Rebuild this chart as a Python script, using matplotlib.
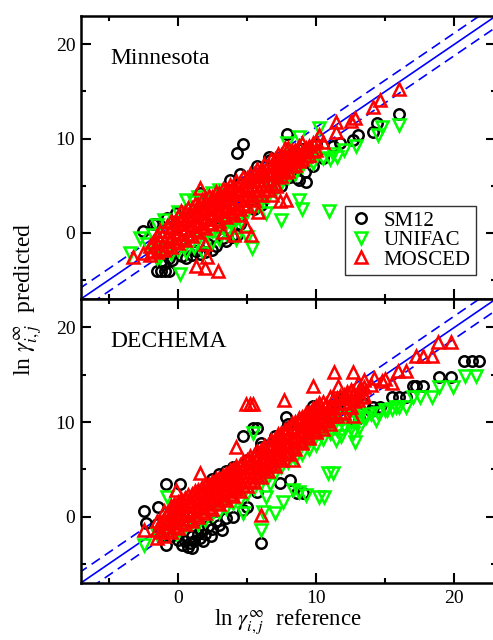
import numpy as np
import matplotlib
matplotlib.use('Agg')
import matplotlib.pyplot as plt

# --- Minnesota panel (top) ---
mn_sm12_x = [-2.5, -1.8, -1.5, -1.2, -0.9, -0.6, -1.2, -0.6, 0.0, 0.6, 0.6, 1.0, 1.6, 2.0, 2.5, 2.8,
             3.0, 3.5, 3.9, 4.3, 4.5, -0.1, 1.6, 3.75, 4.5, 5.7, 6.6, 5.5, 6.0, 7.0, 7.5, 7.9, 8.1,
             8.6, 8.8, 9.3, 9.2, 9.75, 10.5, 11.2, 11.7, 12.7, 13.0, 14.1, 14.4, 16.0, 4.31, 4.72,
             7.92, 6.66, 10.0, 9.0, -1.0, -0.4, 0.3, 1.3, 2.2, 3.3, -1.6, -0.8]
mn_sm12_y = [0.25, 1.0, -4.06, -4.06, -4.06, -4.06, -3.0, -2.6, 0.6, -2.65, -1.6, -2.3, -2.2, -2.0,
             -1.8, -1.4, 0.6, -0.9, -0.4, -0.2, 1.0, 2.1, 4.2, 5.6, 6.3, 7.05, 8.1, 2.5, 3.0, 4.8,
             5.0, 6.7, 5.97, 5.8, 5.64, 5.4, 6.5, 7.05, 8.0, 9.2, 9.5, 9.9, 10.4, 10.75, 11.7, 12.6,
             8.47, 9.42, 10.47, 7.75, 9.4, 8.9, -3.3, -2.9, -2.4, -1.9, -1.2, -0.5, 0.9, 1.6]

mn_unifac_x = [-3.47, -2.75, -2.2, -1.8, -1.3, -1.0, -0.5, 0.14, 0.6, 1.2, 1.8, 2.5, 3.0, 3.5, 4.2,
               5.0, 5.4, 4.0, 4.6, -1.5, -1.0, 0.0, 0.6, 1.2, 1.5, 2.0, 2.5, 3.0, 6.4, 5.8, 6.4,
               7.5, 8.8, 9.0, 10.97, 7.0, 7.8, 8.5, 9.5, 9.8, 10.0, 10.5, 11.0, 11.2, 11.5, 12.0,
               10.25, 8.8, 7.9, 12.9, 14.5, 14.8, 16.0, 6.0, 5.0, 3.5,
               -1.5, -0.5, 0.0, 0.5, 1.0, 1.5, 2.0, 2.5, 3.0, 3.5, 4.0, 4.5, 5.0, 5.5, 6.0, 6.5,
               7.0, 7.5, 8.0, 8.5, 9.0]
mn_unifac_y = [-2.1, -0.5, -1.2, -0.2, -2.5, -1.8, -1.5, -4.4, -2.0, -1.5, -2.1, -1.0, -0.6, 0.0,
               -0.6, -0.45, -1.6, 0.8, 1.2, 0.8, 1.4, 2.2, 3.5, 3.3, 3.8, 3.4, 4.2, 4.6, 2.1, 3.0,
               4.0, 1.4, 3.5, 2.5, 2.3, 5.3, 6.0, 6.3, 7.7, 7.4, 8.5, 8.0, 7.8, 8.4, 8.1, 8.8,
               11.1, 10.2, 9.5, 9.2, 10.4, 11.2, 11.45, 5.0, 3.6, 1.4,
               -2.6, -2.2, -1.8, -1.4, -1.0, -0.6, -0.2, 0.2, 0.6, 1.0, 1.4, 1.8, 2.2, 2.8, 3.3,
               3.9, 4.5, 5.3, 5.9, 6.5, 7.1]

# dense MOSCED band: column x and the y values read in that column
mn_mosced_cols = [-2.0, -1.75, -1.5, -1.25, -1.0, -0.75, -0.5, -0.25, 0.0, 0.25, 0.5, 0.75, 1.0,
                  1.25, 1.5, 1.75, 2.0, 2.25, 2.5, 2.75, 3.0, 3.25, 3.5, 3.75, 4.0, 4.25, 4.5,
                  4.75, 5.0, 5.25, 5.5, 5.75, 6.0, 6.25, 6.5, 6.75, 7.0, 7.25, 7.5, 7.75, 8.0,
                  8.25, 8.5, 8.75, 9.0, 9.25, 9.5, 9.75, 10.0, 10.5]
mn_mosced_coly = [[-2.3, -1.4], [-1.9, -1.0], [-2.0, -1.1, -0.2], [-1.7, -0.7, 0.2],
                  [-1.8, -0.8, 0.2], [-1.3, -0.3, 0.7], [-1.5, -0.5, 0.5, 1.3],
                  [-0.9, 0.1, 1.1], [-1.1, -0.1, 0.9, 1.8], [-0.5, 0.5, 1.5, 2.3],
                  [-0.7, 0.3, 1.3, 2.2], [-0.1, 0.9, 1.9, 2.7], [-0.3, 0.7, 1.7, 2.6],
                  [0.3, 1.3, 2.3, 3.1], [0.1, 1.1, 2.1, 3.0], [0.7, 1.7, 2.7, 3.5],
                  [0.5, 1.5, 2.5, 3.4], [1.1, 2.1, 3.1, 3.9], [0.9, 1.9, 2.9, 3.8],
                  [1.5, 2.5, 3.5, 4.3], [1.3, 2.3, 3.3, 4.2], [1.9, 2.9, 3.9, 4.7],
                  [1.7, 2.7, 3.7, 4.6], [2.3, 3.3, 4.3, 5.1], [2.1, 3.1, 4.1, 5.0],
                  [2.7, 3.7, 4.7, 5.5], [2.5, 3.5, 4.5, 5.4], [3.1, 4.1, 5.1, 5.9],
                  [2.9, 3.9, 4.9, 5.8], [3.6, 4.6, 5.6, 6.3], [3.5, 4.5, 5.5, 6.2],
                  [4.1, 5.1, 6.1, 6.8], [4.0, 5.0, 6.0, 6.7], [4.7, 5.6, 6.5, 7.3],
                  [4.6, 5.6, 6.5, 7.2], [5.3, 6.2, 7.1, 7.8], [5.2, 6.2, 7.0, 7.8],
                  [5.9, 6.8, 7.6, 8.4], [6.0, 6.8, 7.6, 8.3], [6.5, 7.4, 8.2, 9.0],
                  [6.6, 7.4, 8.2, 9.0], [7.1, 7.9, 8.7], [7.2, 8.0, 8.8], [7.6, 8.4, 9.2],
                  [7.8, 8.6, 9.5], [8.2, 9.0], [8.3, 9.2], [8.7, 9.5], [8.8, 9.8], [9.6]]
mn_mosced_x = [16.0, 14.6, 14.1, 12.8, 12.5, 11.45, 11.45, 10.25, 2.9, 1.95, 1.35, 2.1, 1.95, 4.1,
               4.96, 5.3, 4.5, 7.4, 7.8, 1.6, -3.2, -2.5, 7.1, 6.8, 3.3, 5.8]
mn_mosced_y = [15.3, 14.1, 13.4, 12.2, 11.9, 11.8, 10.75, 10.4, -4.06, -3.7, -3.5, -2.5, -1.15, -0.2,
               0.7, -0.2, 1.9, 3.35, 3.5, 4.76, -2.5, -2.1, 5.0, 4.0, 0.1, 2.2]

# --- DECHEMA panel (bottom) ---
de_sm12_x = [-2.4, -1.42, -0.82, 0.14, -0.82, 0.74, 0.3, 0.9, 0.5, 1.2, 1.6, 2.0, 2.5, 3.0, 3.5,
             4.0, 4.7, 5.0, 1.7, -2.3, -1.5, -1.0, -0.5, 0.0, 1.0, 1.5, 2.2, 2.8, 1.8, 1.0, 2.4,
             3.2, 2.5, 3.0, 3.5, 4.0, 5.0, 6.0, 7.0, 8.0, 9.0, 10.5, 11.5, 12.0, 11.0, 13.5, 14.0,
             4.7, 5.44, 5.7, 6.04, 7.85, 9.77, 8.1, 7.4, 9.05, 8.6, 6.04, 5.7, 12.6, 13.1, 14.1,
             14.6, 15.5, 16.0, 16.5, 17.0, 17.2, 17.7, 18.9, 19.76, 20.7, 21.3, 21.8]
de_sm12_y = [0.63, 1.0, 3.5, 3.5, -3.0, -3.2, -3.0, -2.8, -2.6, -2.6, -2.2, -1.8, -1.3, -0.9, -0.17,
             0.0, 0.7, 1.0, -1.4, -0.7, -0.8, -1.5, -2.0, -2.5, -2.0, -1.8, -1.0, -0.5, -2.6, -3.3,
             -2.0, -1.4, 4.0, 4.5, 4.8, 5.3, 6.0, 7.4, 8.5, 9.8, 10.3, 11.0, 11.8, 12.5, 10.2,
             11.9, 11.2, 8.5, 9.35, 9.35, 7.8, 10.5, 11.7, 3.9, 3.6, 2.5, 2.5, -2.8, 2.65, 10.4,
             10.4, 11.6, 11.6, 12.6, 12.6, 12.6, 13.8, 13.8, 13.8, 14.75, 14.75, 16.4, 16.4, 16.4]

de_unifac_x = [-1.5, -1.0, -0.5, 0.0, 0.5, 1.0, 1.5, 2.0, 2.5, 3.0, 3.5, 4.0, 4.5, 5.0, 5.5, 6.0,
               6.5, 7.0, 7.5, 8.0, 8.5, 9.0, 9.5, 10.0, 10.5, 11.0, 11.5, 12.0, 12.5, 13.0, 13.5,
               14.0, 14.5, 15.0, 15.5, 16.0, 9.5, 10.0, 10.5, 11.0, 12.0, 13.0, 12.5, 11.8, 9.0,
               8.5, 8.0, 9.3, 10.2, 11.4, 12.8, 21.6, 20.8, 19.9, 18.9, 18.4, 17.5, 17.0, 16.5,
               15.8, 15.1, 14.35, 13.6, 12.66, 13.1, 12.8, 11.46, 11.0, 11.2, 10.85, 10.6, 10.2,
               9.3, 8.8, 8.35, 7.6, 7.0, 6.16, 6.4, 6.64, 6.4, 5.44, 6.04, 4.7, -2.4, -0.1, -0.8]
de_unifac_y = [-1.8, -1.6, -1.2, -1.6, -1.0, -0.6, -0.8, -0.3, 0.3, 0.5, 0.9, 1.5, 1.8, 2.4, 3.0,
               3.6, 4.2, 4.6, 5.2, 5.8, 6.2, 6.6, 7.2, 7.6, 8.2, 8.8, 9.2, 9.6, 10.0, 10.2, 10.4,
               10.8, 11.0, 11.3, 11.4, 11.6, 8.0, 8.6, 9.2, 9.8, 10.5, 10.8, 9.4, 8.5, 7.8, 7.0,
               6.5, 9.0, 9.9, 10.6, 11.4, 14.9, 14.9, 13.7, 13.7, 12.6, 12.6, 12.6, 11.6, 11.6,
               11.3, 10.2, 10.5, 8.8, 9.35, 7.9, 8.1, 9.0, 4.6, 4.6, 2.1, 2.1, 2.3, 2.6, 2.8, 1.6,
               0.36, 0.5, 2.1, 3.5, 5.5, 8.8, -1.4, 0.36, -3.0, -1.77, 2.1]

de_mosced_cols = [-1.5, -1.25, -1.0, -0.75, -0.5, -0.25, 0.0, 0.25, 0.5, 0.75, 1.0, 1.25, 1.5,
                  1.75, 2.0, 2.25, 2.5, 2.75, 3.0, 3.25, 3.5, 3.75, 4.0, 4.25, 4.5, 4.75, 5.0,
                  5.25, 5.5, 5.75, 6.0, 6.25, 6.5, 6.75, 7.0, 7.25, 7.5, 7.75, 8.0, 8.25, 8.5,
                  8.75, 9.0, 9.25, 9.5, 9.75, 10.0, 10.25, 10.5, 10.75, 11.0, 11.25, 11.5, 11.75,
                  12.0, 12.25, 12.5, 12.75, 13.0, 13.25, 13.5]
de_mosced_coly = [[-2.2, -1.4, -0.5], [-1.6, -0.7], [-2.0, -1.1, -0.2, 0.6], [-1.4, -0.5, 0.4],
                  [-1.6, -0.7, 0.2, 1.1], [-1.0, -0.05, 0.9, 1.3], [-1.2, -0.25, 0.7, 1.6],
                  [-0.6, 0.35, 1.3, 1.9], [-0.8, 0.15, 1.1, 2.0], [-0.2, 0.75, 1.7, 2.3],
                  [-0.4, 0.55, 1.5, 2.4], [0.2, 1.15, 2.1, 2.7], [0.0, 0.95, 1.9, 2.8],
                  [0.6, 1.55, 2.5, 3.1], [0.4, 1.35, 2.3, 3.2], [1.05, 2.0, 2.95, 3.5],
                  [0.85, 1.8, 2.75, 3.65], [1.5, 2.45, 3.4, 4.0], [1.3, 2.25, 3.2, 4.1],
                  [1.95, 2.9, 3.85, 4.45], [1.75, 2.7, 3.65, 4.55], [2.4, 3.35, 4.3, 4.9],
                  [2.2, 3.15, 4.1, 5.0], [2.9, 3.85, 4.8, 5.4], [2.7, 3.65, 4.6, 5.5],
                  [3.4, 4.35, 5.3, 5.9], [3.2, 4.15, 5.1, 6.0], [3.9, 4.85, 5.8, 6.4],
                  [3.7, 4.65, 5.6, 6.5], [4.4, 5.4, 6.35, 6.9], [4.2, 5.15, 6.1, 7.0],
                  [5.0, 5.95, 6.9, 7.5], [4.8, 5.75, 6.7, 7.6], [5.6, 6.55, 7.5, 8.1],
                  [5.4, 6.35, 7.3, 8.2], [6.2, 7.15, 8.1, 8.7], [6.0, 6.95, 7.9, 8.8],
                  [6.8, 7.75, 8.7, 9.3], [6.6, 7.55, 8.5, 9.4], [7.4, 8.35, 9.3, 9.9],
                  [7.2, 8.15, 9.1, 10.0], [7.95, 8.9, 9.85, 10.4], [7.75, 8.7, 9.65, 10.55],
                  [8.5, 9.45, 10.4, 11.0], [8.3, 9.25, 10.2, 11.1], [9.1, 10.05, 11.0, 11.5],
                  [8.9, 9.85, 10.8, 11.7], [9.6, 10.55, 11.5, 12.0], [9.3, 10.25, 11.2, 12.1],
                  [10.1, 11.0, 11.9], [9.8, 10.75, 11.7, 12.6], [10.6, 11.5, 12.4],
                  [10.6, 11.6, 12.5], [11.1, 12.0, 12.8], [11.0, 12.0, 12.9], [11.6, 12.5, 13.2],
                  [11.6, 12.5, 13.3], [12.2, 13.0], [12.3, 13.2], [12.7, 13.5], [12.8, 13.7]]
de_mosced_x = [19.76, 18.8, 18.4, 17.7, 17.2, 16.5, 15.9, 15.5, 14.8, 14.0, 13.0, 12.66, 11.3,
               11.6, 9.8, 7.7, 5.44, 4.96, 5.2, 4.24, 1.6, -0.1, -2.4, 6.04, 8.3, 12.66, 9.5,
               15.0, 14.2, 13.5, 12.5]
de_mosced_y = [18.5, 18.5, 17.0, 17.0, 17.0, 15.4, 15.4, 14.1, 14.3, 13.9, 14.1, 15.3, 15.3, 13.8,
               13.8, 12.3, 11.9, 11.9, 11.9, 7.4, 4.6, 2.8, -1.4, 0.18, 6.0, 10.6, 10.7, 14.5,
               14.7, 14.4, 13.4]

panels = ['Minnesota', 'DECHEMA']
series = ['SM12', 'UNIFAC', 'MOSCED']
lims = [-7, 23]
band = 1.2      # half width of dashed band

plt.rcParams['font.family'] = ['Liberation Serif', 'DejaVu Serif']
plt.rcParams['mathtext.fontset'] = 'stix'


def band_points(cols, coly, xo, yo):
    bx = [c for c, ys in zip(cols, coly) for _ in ys]
    by = [v for ys in coly for v in ys]
    return bx + xo, by + yo


data = [
    [(mn_sm12_x, mn_sm12_y), (mn_unifac_x, mn_unifac_y),
     band_points(mn_mosced_cols, mn_mosced_coly, mn_mosced_x, mn_mosced_y)],
    [(de_sm12_x, de_sm12_y), (de_unifac_x, de_unifac_y),
     band_points(de_mosced_cols, de_mosced_coly, de_mosced_x, de_mosced_y)],
]
styles = [dict(marker='o', color='k', ms=7.5),
          dict(marker='v', color='#00ff00', ms=8.5),
          dict(marker='^', color='#ff0000', ms=8.5)]

fig = plt.figure(figsize=(4.93, 6.4), dpi=100)
ax_top = fig.add_axes([0.164, 0.5328, 0.8418, 0.4422])
ax_bot = fig.add_axes([0.164, 0.0891, 0.8418, 0.4437])

for ax, name, sets in zip([ax_top, ax_bot], panels, data):
    lx = np.array([-10, 30])
    ax.plot(lx, lx, '-', color='#0000ff', lw=1.2, zorder=1)
    ax.plot(lx, lx + band, '--', color='#0000ff', lw=1.2, dashes=(6, 3.5), zorder=1)
    ax.plot(lx, lx - band, '--', color='#0000ff', lw=1.2, dashes=(6, 3.5), zorder=1)
    hs = []
    for (xs, ys), st, lab in zip(sets, styles, series):
        h, = ax.plot(xs, ys, ls='none', marker=st['marker'], ms=st['ms'], mfc='none',
                     mec=st['color'], mew=1.8, label=lab, zorder=2)
        hs.append(h)
    ax.set_xlim(lims)
    ax.set_ylim(lims)
    ax.set_xticks([0, 10, 20])
    ax.set_yticks([0, 10, 20])
    ax.set_xticks([-5, 5, 15], minor=True)
    ax.set_yticks([-5, 5, 15], minor=True)
    ax.tick_params(which='both', direction='in', top=True, right=True, width=1.5,
                   labelsize=14, pad=4)
    ax.tick_params(which='major', length=7)
    ax.tick_params(which='minor', length=3.5)
    ax.tick_params(axis='x', pad=5)
    for s in ax.spines.values():
        s.set_linewidth(1.8)
    ax.text(0.07, 0.832, name, transform=ax.transAxes, fontsize=17)

ax_top.tick_params(labelbottom=False)
leg = ax_top.legend(handles=hs, loc='lower right', bbox_to_anchor=(0.952, 0.085),
                    fontsize=15, frameon=True, fancybox=False, edgecolor='k',
                    handlelength=1.0, handletextpad=0.6, labelspacing=0.0,
                    borderpad=0.25, borderaxespad=0)
leg.get_frame().set_linewidth(1.0)

fig.text(0.057, 0.532, r'ln $\gamma^{\infty}_{i,j}$  predicted', rotation=90,
         ha='center', va='center', fontsize=17)
fig.text(0.585, 0.029, r'ln $\gamma^{\infty}_{i,j}$  reference', ha='center', va='center',
         fontsize=16.5)

fig.savefig('out.png', dpi=100)
